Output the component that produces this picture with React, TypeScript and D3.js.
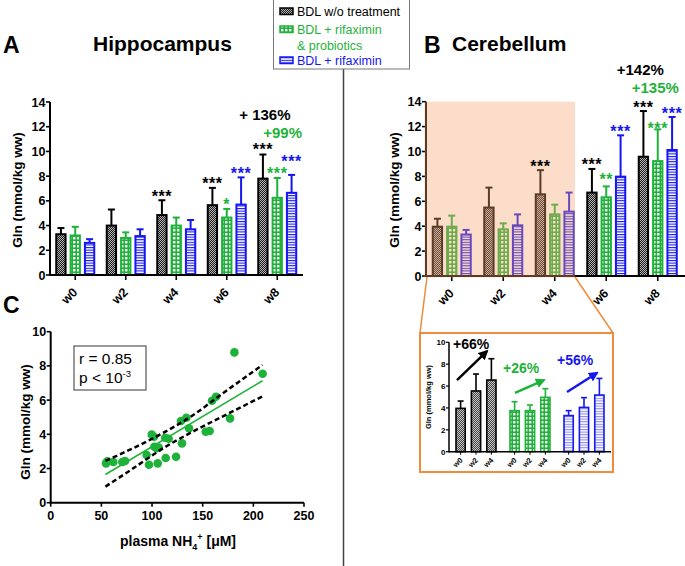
import React from "react";
import * as d3 from "d3";

const FONT = "'Liberation Sans', Arial, Helvetica, sans-serif";
const BLACK = "#000000";
const GREEN = "#1fb23a";
const BLUE = "#1616ee";
const ORANGE = "#f08c3c";

const weeks = ["w0", "w2", "w4", "w6", "w8"];
const insetWeeks = ["w0", "w2", "w4"];
const seriesKeys = ["noTreat", "rifaProbio", "rifa"];
const seriesColors = [BLACK, GREEN, BLUE];
const seriesPatterns = ["patBlack", "patGreen", "patBlue"];
const legendLabels = [["BDL w/o treatment"], ["BDL + rifaximin", "& probiotics"], ["BDL + rifaximin"]];

// A - hippocampus, Gln mean and SD per week
const hippoNoTreat = [3.3, 4.0, 4.85, 5.65, 7.8];
const hippoNoTreatSd = [0.5, 1.3, 1.2, 1.4, 1.95];
const hippoRifaProbio = [3.2, 3.0, 4.0, 4.65, 6.25];
const hippoRifaProbioSd = [0.7, 0.45, 0.65, 0.7, 1.6];
const hippoRifa = [2.6, 3.15, 3.7, 5.7, 6.65];
const hippoRifaSd = [0.3, 0.55, 0.75, 2.2, 1.45];
const hippoStars = [
  ["", "", "***", "***", "***"],
  ["", "", "", "*", "***"],
  ["", "", "", "***", "***"],
];

// B - cerebellum
const cerebNoTreat = [3.96, 5.5, 6.56, 6.7, 9.58];
const cerebNoTreatSd = [0.64, 1.6, 1.94, 1.9, 3.67];
const cerebRifaProbio = [3.96, 3.75, 4.95, 6.32, 9.23];
const cerebRifaProbioSd = [0.89, 0.48, 0.78, 0.88, 2.55];
const cerebRifa = [3.33, 4.07, 5.17, 7.98, 10.12];
const cerebRifaSd = [0.37, 0.88, 1.53, 3.32, 2.65];
const cerebStars = [
  ["", "", "***", "***", "***"],
  ["", "", "", "**", "***"],
  ["", "", "", "***", "***"],
];

// inset - cerebellum w0..w4 regrouped by treatment
const insetNoTreat = [3.96, 5.55, 6.55];
const insetNoTreatSd = [0.67, 1.55, 1.95];
const insetRifaProbio = [3.75, 3.75, 4.97];
const insetRifaProbioSd = [0.82, 0.52, 0.79];
const insetRifa = [3.3, 4.05, 5.18];
const insetRifaSd = [0.45, 0.89, 1.52];
const insetPercents = ["+66%", "+26%", "+56%"];

// C - Gln vs plasma NH4+
const nh4 = [54.6, 55.9, 61.8, 70.7, 73.4, 94.7, 97, 99.7, 102, 102.3, 104.6, 106.6, 105.6, 113.5,
  113, 116.4, 123.7, 128.6, 129.6, 133.9, 136.5, 153, 156.9, 159.2, 163.2, 177, 181.3, 209.2];
const glnC = [2.3, 2.42, 2.38, 2.38, 2.44, 2.79, 2.22, 3.98, 3.86, 3.27, 3.18, 3.22, 2.3, 2.61,
  3.8, 3.74, 2.69, 4.78, 3.47, 4.97, 4.35, 4.15, 4.19, 5.96, 6.2, 4.93, 8.79, 7.54];
const fitX = [54, 209];
const fitY = [1.65, 7.13];
const ciX = [54, 80, 110, 140, 170, 209];
const ciUpper = [2.45, 3.15, 4.05, 5.1, 6.4, 8.05];
const ciLower = [0.94, 1.95, 3.15, 4.15, 5.05, 6.22];

const yTicks14 = [0, 2, 4, 6, 8, 10, 12, 14];
const yTicks10 = [0, 2, 4, 6, 8, 10];
const xTicksC = [0, 50, 100, 150, 200, 250];

function Bar(props: { x: number; w: number; y: d3.ScaleLinear<number, number>; mean: number; sd: number;
  color: string; pattern: string; sw: number; cap: number }) {
  const { x, w, y, mean, sd, color, pattern, sw, cap } = props;
  const top = y(mean);
  const err = y(mean + sd);
  const cx = x + w / 2;
  return (
    <g>
      <line x1={cx} x2={cx} y1={top} y2={err} stroke={color} strokeWidth={sw} />
      <line x1={cx - cap / 2} x2={cx + cap / 2} y1={err} y2={err} stroke={color} strokeWidth={sw} />
      <rect x={x} y={top} width={w} height={y(0) - top} fill={`url(#${pattern})`} stroke={color} strokeWidth={sw} />
    </g>
  );
}

function YAxis(props: { y: d3.ScaleLinear<number, number>; x0: number; ticks: number[]; fs: number; len: number; sw: number }) {
  const { y, x0, ticks, fs, len, sw } = props;
  return (
    <g>
      <line x1={x0} x2={x0} y1={y(0) + sw / 2} y2={y(ticks[ticks.length - 1])} stroke="#000" strokeWidth={sw} />
      {ticks.map((t) => (
        <g key={t}>
          <line x1={x0 - len} x2={x0} y1={y(t)} y2={y(t)} stroke="#000" strokeWidth={sw * 0.8} />
          <text x={x0 - len - 0.5} y={y(t)} dy="0.36em" textAnchor="end" fontSize={fs} fontWeight="bold">{t}</text>
        </g>
      ))}
    </g>
  );
}

function WeekBars(props: { x: d3.ScaleBand<string>; inner: d3.ScaleBand<string>; y: d3.ScaleLinear<number, number>;
  means: number[][]; sds: number[][] }) {
  const { x, inner, y, means, sds } = props;
  return (
    <g>
      {seriesKeys.map((k, s) =>
        weeks.map((wk, i) => (
          <Bar key={k + wk} x={(x(wk) as number) + x.bandwidth() / 2 + (inner(k) as number)} w={inner.bandwidth()} y={y}
            mean={means[s][i]} sd={sds[s][i]} color={seriesColors[s]} pattern={seriesPatterns[s]} sw={2} cap={7} />
        ))
      )}
    </g>
  );
}

function Stars(props: { x: d3.ScaleBand<string>; inner: d3.ScaleBand<string>; y: d3.ScaleLinear<number, number>;
  means: number[][]; sds: number[][]; stars: string[][]; raise: Record<string, number> }) {
  const { x, inner, y, means, sds, stars, raise } = props;
  return (
    <g>
      {seriesKeys.map((k, s) =>
        weeks.map((wk, i) => stars[s][i] ? (
          <text key={k + wk} x={(x(wk) as number) + x.bandwidth() / 2 + (inner(k) as number) + inner.bandwidth() / 2}
            y={y(means[s][i] + sds[s][i]) + 1.5 - (raise[k + wk] || 0)} textAnchor="middle" fontSize={16}
            fontWeight="bold" letterSpacing={0.6} fill={seriesColors[s]}>
            {stars[s][i]}
          </text>
        ) : null)
      )}
    </g>
  );
}

function XAxisWeeks(props: { x: d3.ScaleBand<string>; y0: number; x1: number; fs: number }) {
  const { x, y0, x1, fs } = props;
  const r = x.range();
  return (
    <g>
      <line x1={r[0]} x2={x1} y1={y0} y2={y0} stroke="#000" strokeWidth={2} />
      {weeks.map((wk) => {
        const cx = (x(wk) as number) + x.bandwidth() / 2;
        return (
          <g key={wk}>
            <line x1={cx} x2={cx} y1={y0} y2={y0 + 5} stroke="#000" strokeWidth={1.6} />
            <text transform={`translate(${cx + 3},${y0 + 18}) rotate(-45)`} textAnchor="end" fontSize={fs} fontWeight="bold">{wk}</text>
          </g>
        );
      })}
    </g>
  );
}

export default function App() {
  const xA = d3.scaleBand<string>().domain(weeks).range([50, 302.5]);
  const yA = d3.scaleLinear().domain([0, 14]).range([275, 102]);
  const xB = d3.scaleBand<string>().domain(weeks).range([426, 683.5]);
  const yB = d3.scaleLinear().domain([0, 14]).range([276, 101.7]);
  const inner = d3.scaleBand<string>().domain(seriesKeys).range([-19, 19]).paddingInner(0.35);

  const xI = d3.scaleBand<string>().domain(seriesKeys).range([449, 611]);
  const innerI = d3.scaleBand<string>().domain(insetWeeks).range([-20, 20]).paddingInner(0.4);
  const yI = d3.scaleLinear().domain([0, 10]).range([451.7, 342.3]);

  const xC = d3.scaleLinear().domain([0, 250]).range([50.7, 304]);
  const yC = d3.scaleLinear().domain([0, 10]).range([502.7, 331.7]);

  const hippoMeans = [hippoNoTreat, hippoRifaProbio, hippoRifa];
  const hippoSds = [hippoNoTreatSd, hippoRifaProbioSd, hippoRifaSd];
  const cerebMeans = [cerebNoTreat, cerebRifaProbio, cerebRifa];
  const cerebSds = [cerebNoTreatSd, cerebRifaProbioSd, cerebRifaSd];
  const insetMeans = [insetNoTreat, insetRifaProbio, insetRifa];
  const insetSds = [insetNoTreatSd, insetRifaProbioSd, insetRifaSd];

  const ciLine = d3.line<number>().x((d, i) => xC(ciX[i])).y((d) => yC(d)).curve(d3.curveMonotoneX);
  const fitLine = d3.line<number>().x((d, i) => xC(fitX[i])).y((d) => yC(d));

  const cxA = (wk: string) => (xA(wk) as number) + xA.bandwidth() / 2;
  const cxB = (wk: string) => (xB(wk) as number) + xB.bandwidth() / 2;
  const cxI = (k: string) => (xI(k) as number) + xI.bandwidth() / 2;

  // inset trend arrows (group-relative x, data-space y)
  const arrowDx = [[-19, 11], [-15, 14], [-17, 13]];
  const arrowY = [[6.55, 9.2], [5.37, 6.55], [5.46, 7.2]];
  const insetPatterns = ["patGray", "patGreen", "patBlueLight"];

  return (
    <svg width={685} height={566} style={{ position: "absolute", left: 0, top: 0, background: "#fff" }} fontFamily={FONT}>
      <defs>
        <pattern id="patBlack" width={2} height={2} patternUnits="userSpaceOnUse">
          <rect width={2} height={2} fill="#1a1a1a" />
          <rect width={1} height={1} fill="#b8b8b8" />
          <rect x={1} y={1} width={1} height={1} fill="#b8b8b8" />
        </pattern>
        <pattern id="patGray" width={2} height={2} patternUnits="userSpaceOnUse">
          <rect width={2} height={2} fill="#444" />
          <rect width={1} height={1} fill="#c8c8c8" />
          <rect x={1} y={1} width={1} height={1} fill="#c8c8c8" />
        </pattern>
        <pattern id="patGreen" width={4} height={4} patternUnits="userSpaceOnUse">
          <rect width={4} height={4} fill={GREEN} />
          <rect x={1} y={1} width={2.4} height={2.4} fill="#fff" />
        </pattern>
        <pattern id="patBlue" width={2.6} height={2.6} patternUnits="userSpaceOnUse">
          <rect width={2.6} height={2.6} fill="#fff" />
          <rect width={2.6} height={1.1} fill={BLUE} />
        </pattern>
        <pattern id="patBlueLight" width={2.6} height={2.6} patternUnits="userSpaceOnUse">
          <rect width={2.6} height={2.6} fill="#fff" />
          <rect width={2.6} height={1.1} fill="#8a8af0" />
        </pattern>
        <marker id="arrowBlack" viewBox="0 0 10 10" refX={8} refY={5} markerWidth={4} markerHeight={4} orient="auto">
          <path d="M0,0 L10,5 L0,10 z" fill={BLACK} />
        </marker>
        <marker id="arrowGreen" viewBox="0 0 10 10" refX={8} refY={5} markerWidth={4} markerHeight={4} orient="auto">
          <path d="M0,0 L10,5 L0,10 z" fill={GREEN} />
        </marker>
        <marker id="arrowBlue" viewBox="0 0 10 10" refX={8} refY={5} markerWidth={4} markerHeight={4} orient="auto">
          <path d="M0,0 L10,5 L0,10 z" fill={BLUE} />
        </marker>
      </defs>

      {/* divider */}
      <line x1={343.5} x2={343.5} y1={69} y2={566} stroke="#444" strokeWidth={1.5} />

      {/* legend */}
      <rect x={273.5} y={-1} width={136} height={70} fill="#fff" stroke="#777" strokeWidth={1} />
      {legendLabels.map((lines, s) => {
        const rowY = [16, 34, 65][s];
        return (
          <g key={s}>
            <rect x={280} y={rowY - 8} width={13} height={6.5} fill={`url(#${seriesPatterns[s]})`} stroke={seriesColors[s]} strokeWidth={1.5} />
            {lines.map((t, j) => (
              <text key={t} x={297} y={rowY + j * 16} fontSize={12.5} fill={seriesColors[s]}>{t}</text>
            ))}
          </g>
        );
      })}

      {/* panel A */}
      <text x={3} y={53} fontSize={23} fontWeight="bold">A</text>
      <text x={93} y={51} fontSize={21} fontWeight="bold">Hippocampus</text>
      <text transform="translate(22,190) rotate(-90)" textAnchor="middle" fontSize={13.5} fontWeight="bold">Gln (mmol/kg ww)</text>
      <WeekBars x={xA} inner={inner} y={yA} means={hippoMeans} sds={hippoSds} />
      <YAxis y={yA} x0={50} ticks={yTicks14} fs={12.5} len={4} sw={2} />
      <XAxisWeeks x={xA} y0={275} x1={303} fs={12.5} />
      <Stars x={xA} inner={inner} y={yA} means={hippoMeans} sds={hippoSds} stars={hippoStars} raise={{ rifaw8: 9, noTreatw8: 1 }} />
      <text x={cxA("w8") - 38} y={120} fontSize={15} fontWeight="bold" fill={BLACK}>+ 136%</text>
      <text x={cxA("w8") - 14} y={138} fontSize={15} fontWeight="bold" fill={GREEN}>+99%</text>

      {/* panel B */}
      <text x={424} y={53} fontSize={23} fontWeight="bold">B</text>
      <text x={452} y={51} fontSize={21} fontWeight="bold">Cerebellum</text>
      <text transform="translate(398.5,190) rotate(-90)" textAnchor="middle" fontSize={13.5} fontWeight="bold">Gln (mmol/kg ww)</text>
      <WeekBars x={xB} inner={inner} y={yB} means={cerebMeans} sds={cerebSds} />
      <YAxis y={yB} x0={426} ticks={yTicks14} fs={12.5} len={4} sw={2} />
      <XAxisWeeks x={xB} y0={276} x1={685} fs={12.5} />
      <rect x={424.5} y={yB(14)} width={575 - 424.5} height={yB(0) + 1.5 - yB(14)} fill="#f3a26c" opacity={0.37} />
      <Stars x={xB} inner={inner} y={yB} means={cerebMeans} sds={cerebSds} stars={cerebStars} raise={{ rifaProbiow6: 3, rifaProbiow8: -3 }} />
      <text x={cxB("w8") - 41} y={75} fontSize={15} fontWeight="bold" fill={BLACK}>+142%</text>
      <text x={cxB("w8") - 26} y={93} fontSize={15} fontWeight="bold" fill={GREEN}>+135%</text>

      {/* zoom connector + inset */}
      <line x1={427} y1={277} x2={420} y2={333} stroke={ORANGE} strokeWidth={1.5} />
      <line x1={575} y1={277} x2={613} y2={333} stroke={ORANGE} strokeWidth={1.5} />
      <rect x={420} y={333} width={193} height={139} fill="#fff" stroke={ORANGE} strokeWidth={2} />
      <text transform="translate(430.5,397) rotate(-90)" textAnchor="middle" fontSize={7.5} fontWeight="bold">Gln (mmol/kg ww)</text>
      {seriesKeys.map((k, s) =>
        insetWeeks.map((wk, i) => (
          <Bar key={k + wk} x={cxI(k) + (innerI(wk) as number)} w={innerI.bandwidth()} y={yI}
            mean={insetMeans[s][i]} sd={insetSds[s][i]} color={seriesColors[s]}
            pattern={insetPatterns[s]} sw={1.6} cap={6} />
        ))
      )}
      <YAxis y={yI} x0={449} ticks={yTicks10} fs={8} len={3} sw={1.5} />
      <line x1={449} x2={611} y1={yI(0)} y2={yI(0)} stroke="#000" strokeWidth={1.5} />
      {seriesKeys.map((k) =>
        insetWeeks.map((wk) => {
          const cx = cxI(k) + (innerI(wk) as number) + innerI.bandwidth() / 2;
          return (
            <g key={k + wk}>
              <line x1={cx} x2={cx} y1={yI(0)} y2={yI(0) + 3} stroke="#000" strokeWidth={1} />
              <text transform={`translate(${cx + 2.5},${yI(0) + 9}) rotate(-45)`} textAnchor="end" fontSize={7.5} fontWeight="bold">{wk}</text>
            </g>
          );
        })
      )}
      {seriesKeys.map((k, s) => (
        <line key={k} x1={cxI(k) + arrowDx[s][0]} y1={yI(arrowY[s][0])} x2={cxI(k) + arrowDx[s][1]} y2={yI(arrowY[s][1])}
          stroke={seriesColors[s]} strokeWidth={2.5}
          markerEnd={`url(#${["arrowBlack", "arrowGreen", "arrowBlue"][s]})`} />
      ))}
      <text x={cxI("noTreat") - 23} y={349} fontSize={14} fontWeight="bold" fill={BLACK}>{insetPercents[0]}</text>
      <text x={cxI("rifaProbio") - 27} y={373} fontSize={14} fontWeight="bold" fill={GREEN}>{insetPercents[1]}</text>
      <text x={cxI("rifa") - 27} y={365} fontSize={14} fontWeight="bold" fill={BLUE}>{insetPercents[2]}</text>

      {/* panel C */}
      <text x={3} y={313} fontSize={23} fontWeight="bold">C</text>
      <text transform="translate(29.5,422) rotate(-90)" textAnchor="middle" fontSize={13.5} fontWeight="bold">Gln (mmol/kg ww)</text>
      <YAxis y={yC} x0={50.7} ticks={yTicks10} fs={12.5} len={4} sw={2} />
      <line x1={50.7} x2={304} y1={yC(0)} y2={yC(0)} stroke="#000" strokeWidth={2} />
      {xTicksC.map((t) => (
        <g key={t}>
          <line x1={xC(t)} x2={xC(t)} y1={yC(0)} y2={yC(0) + 4} stroke="#000" strokeWidth={1.6} />
          <text x={xC(t)} y={yC(0) + 17} textAnchor="middle" fontSize={12.5} fontWeight="bold">{t}</text>
        </g>
      ))}
      <text x={178} y={546} textAnchor="middle" fontSize={14} fontWeight="bold">
        plasma NH<tspan fontSize={9} dy={4}>4</tspan><tspan fontSize={9} dy={-10}>+</tspan><tspan dy={6}> [μM]</tspan>
      </text>
      <rect x={74} y={346} width={72} height={44} fill="#fff" stroke="#555" strokeWidth={1.2} />
      <text x={79} y={364} fontSize={15.5}>r = 0.85</text>
      <text x={79} y={383}>
        <tspan fontSize={15.5}>p &lt; 10</tspan><tspan fontSize={9.5} dy={-6}>-3</tspan>
      </text>
      {nh4.map((v, i) => (
        <circle key={i} cx={xC(v)} cy={yC(glnC[i])} r={4.3} fill={GREEN} />
      ))}
      <path d={fitLine(fitY) as string} fill="none" stroke={GREEN} strokeWidth={1.6} />
      <path d={ciLine(ciUpper) as string} fill="none" stroke="#000" strokeWidth={2.5} strokeDasharray="5,3" />
      <path d={ciLine(ciLower) as string} fill="none" stroke="#000" strokeWidth={2.5} strokeDasharray="5,3" />
    </svg>
  );
}
